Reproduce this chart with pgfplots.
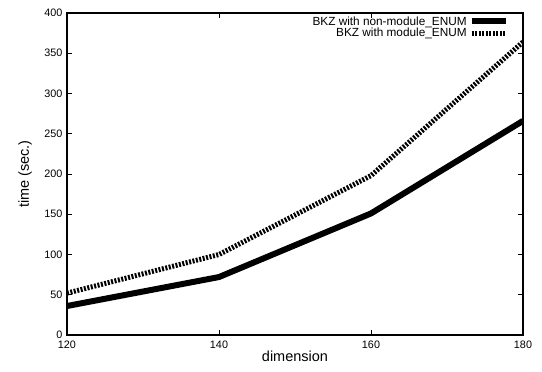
\documentclass[border=0pt]{standalone}
\usepackage{fontspec}
\setmainfont{Liberation Sans}
\usepackage{pgfplots}
\pgfplotsset{compat=1.18}
\begin{document}
\begin{tikzpicture}
\begin{axis}[
  name=ax,
  scale only axis,
  width=456bp, height=322bp,
  xmin=120, xmax=180, ymin=0, ymax=400,
  xtick={120,140,160,180},
  ytick={0,50,100,150,200,250,300,350,400},
  tick align=inside, tick pos=both,
  major tick length=5bp,
  axis line style={line width=1.2bp},
  every tick/.style={black, line width=0.8bp},
  /pgf/number format/assume math mode=true,
  tick label style={font=\fontsize{10.8bp}{12bp}\selectfont},
  xticklabel style={yshift=-2bp},
  yticklabel style={xshift=-1bp},
  label style={font=\fontsize{14.5bp}{17bp}\selectfont},
  xlabel={dimension},
  ylabel={time (sec.)},
  xlabel style={at={(0.5,-26bp)}, anchor=base},
  ylabel style={at={(-38bp,0.5)}, anchor=base},
  legend style={draw=none, fill=none, at={(0.969,0.996)}, anchor=north east,
    font=\fontsize{11.8bp}{13bp}\selectfont, row sep=-2.5bp, inner sep=0pt},
  legend cell align=right,
  legend plot pos=right,
  legend image code/.code={\draw[#1] (0bp,0bp) -- (34bp,0bp);},
]
\addplot[black, line width=6bp, line join=round] coordinates {(120,36) (140,72) (160,151) (180,266)};
\addlegendentry{BKZ with non-module\_ENUM}
\addplot[black, line width=5bp, dash pattern=on 2bp off 1.5bp] coordinates {(120,52) (140,100) (160,198) (180,364)};
\addlegendentry{BKZ with module\_ENUM}
\end{axis}
\path ([shift={(-67bp,-37bp)}]ax.south west) rectangle ([shift={(19bp,13bp)}]ax.north east);
\end{tikzpicture}
\end{document}
